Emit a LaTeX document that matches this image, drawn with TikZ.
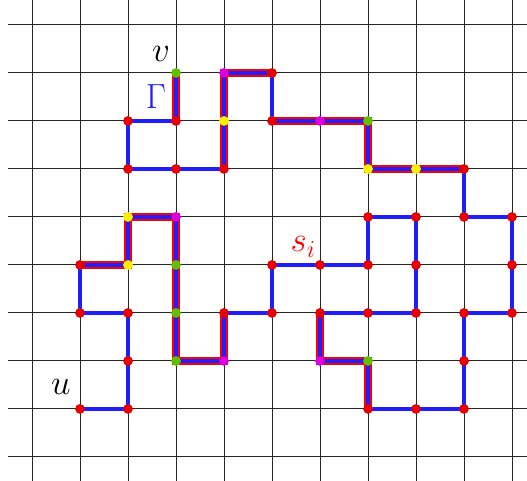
\documentclass[tikz,border=0pt]{standalone}
\usepackage{tikz}
\definecolor{dotred}{RGB}{230,0,0}
\definecolor{dotgreen}{RGB}{100,190,0}
\definecolor{dotyellow}{RGB}{255,240,0}
\definecolor{dotmag}{RGB}{220,0,220}
\definecolor{pathblue}{RGB}{30,30,255}

\begin{document}
\begin{tikzpicture}[font=\fontsize{22}{26}\selectfont,
  grid/.style={black!85,line width=0.6pt},
  gam/.style={pathblue,line width=1.9pt},
  seg/.style={red,line width=5.2pt},
  pt/.style={circle,inner sep=0pt,minimum size=5.8pt}]
\useasboundingbox (-0.667,-0.5) rectangle (10.3125,9.52);
% lattice
\foreach \x in {0,...,10} \draw[grid] (\x,-0.5) -- (\x,9.52);
\foreach \y in {0,...,9} \draw[grid] (-0.5,\y) -- (10.3125,\y);
\foreach \x in {0,...,10} \foreach \y in {0,...,9} \coordinate (g-\x-\y) at (\x,\y);
% highlighted pieces s_i
\draw[seg] (g-3-8) -- (g-3-7);
\draw[seg] (g-4-6) -- (g-4-7) -- (g-4-8) -- (g-5-8);
\draw[seg] (g-5-7) -- (g-6-7) -- (g-7-7) -- (g-7-6) -- (g-8-6) -- (g-9-6);
\draw[seg] (g-7-1) -- (g-7-2) -- (g-6-2) -- (g-6-3);
\draw[seg] (g-4-3) -- (g-4-2) -- (g-3-2) -- (g-3-3) -- (g-3-4) -- (g-3-5)
  -- (g-2-5) -- (g-2-4) -- (g-1-4);
% the path Gamma from v to u
\draw[gam] (g-3-8) -- (g-3-7) -- (g-2-7) -- (g-2-6) -- (g-3-6) -- (g-4-6)
  -- (g-4-7) -- (g-4-8) -- (g-5-8) -- (g-5-7) -- (g-6-7) -- (g-7-7) -- (g-7-6)
  -- (g-8-6) -- (g-9-6) -- (g-9-5) -- (g-10-5) -- (g-10-4) -- (g-10-3) -- (g-9-3)
  -- (g-9-2) -- (g-9-1) -- (g-8-1) -- (g-7-1) -- (g-7-2) -- (g-6-2) -- (g-6-3)
  -- (g-7-3) -- (g-8-3) -- (g-8-4) -- (g-8-5) -- (g-7-5) -- (g-7-4) -- (g-6-4)
  -- (g-5-4) -- (g-5-3) -- (g-4-3) -- (g-4-2) -- (g-3-2) -- (g-3-3) -- (g-3-4)
  -- (g-3-5) -- (g-2-5) -- (g-2-4) -- (g-1-4) -- (g-1-3) -- (g-2-3) -- (g-2-2)
  -- (g-2-1) -- (g-1-1);
% vertices
\foreach \a/\b in {3/7,2/7,2/6,3/6,4/6,5/8,5/7,9/6,9/5,10/5,10/4,10/3,9/3,9/2,
  9/1,8/1,7/1,6/3,7/3,8/3,8/4,8/5,7/5,7/4,6/4,5/4,5/3,4/3,1/4,1/3,2/3,2/2,2/1,1/1}
  \node[pt,fill=dotred] (r-\a-\b) at (g-\a-\b) {};
\foreach \a/\b in {3/8,7/7,3/4,3/3,3/2,7/2}
  \node[pt,fill=dotgreen] (e-\a-\b) at (g-\a-\b) {};
\foreach \a/\b in {4/7,7/6,8/6,2/5,2/4}
  \node[pt,fill=dotyellow] (y-\a-\b) at (g-\a-\b) {};
\foreach \a/\b in {4/8,6/7,3/5,4/2,6/2}
  \node[pt,fill=dotmag] (m-\a-\b) at (g-\a-\b) {};
% labels
\node (vlab) at (2.69,8.40) {$v$};
\node (ulab) at (0.60,1.46) {$u$};
\node[pathblue] (gamlab) at (2.58,7.51) {$\Gamma$};
\node[red] (slab) at (5.65,4.375) {$s_i$};
\end{tikzpicture}
\end{document}
